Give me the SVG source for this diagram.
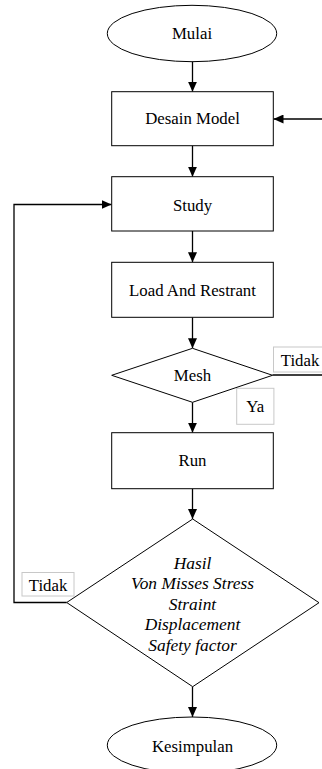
<svg xmlns="http://www.w3.org/2000/svg" width="322" height="769" viewBox="0 0 322 769" font-family="'Liberation Serif', 'DejaVu Serif', serif">
  <defs>
    <marker id="arrow" markerUnits="userSpaceOnUse" markerWidth="10" markerHeight="9" refX="10" refY="4.5" orient="auto">
      <path d="M0,0 L10,4.5 L0,9 z" fill="#000"/>
    </marker>
    <style>
      .shape { fill: #fff; stroke: #000; stroke-width: 1; }
      .lbl { fill: #fff; stroke: #c8c8c8; stroke-width: 1; }
      .edge { fill: none; stroke: #000; stroke-width: 1.3; }
      .arr { marker-end: url(#arrow); }
      .t { font-family: 'Liberation Serif', 'DejaVu Serif', serif; font-size: 16.8px; fill: #000; text-anchor: middle; }
      .it { font-style: italic; font-size: 17.4px; }
    </style>
  </defs>

  <rect width="322" height="769" fill="#fff"/>

  <!-- connectors -->
  <g id="connectors">
    <line class="edge arr" x1="192.5" y1="61.7" x2="192.5" y2="91.7"/>
    <line class="edge arr" x1="322" y1="119" x2="273.5" y2="119"/>
    <line class="edge arr" x1="192.5" y1="145.7" x2="192.5" y2="176.7"/>
    <line class="edge arr" x1="192.5" y1="231" x2="192.5" y2="262.3"/>
    <line class="edge arr" x1="192.5" y1="317.3" x2="192.5" y2="348.3"/>
    <line class="edge" x1="272.5" y1="375" x2="322" y2="375"/>
    <line class="edge arr" x1="192.5" y1="402.3" x2="192.5" y2="432.7"/>
    <line class="edge arr" x1="192.5" y1="488.7" x2="192.5" y2="519"/>
    <polyline class="edge arr" points="66.7,602.5 14,602.5 14,204.5 111.5,204.5"/>
    <line class="edge arr" x1="192.5" y1="686.7" x2="192.5" y2="717"/>
  </g>

  <!-- edge labels -->
  <g id="label-tidak-mesh">
    <rect class="lbl" x="273.5" y="347" width="50" height="25"/>
    <text x="300" y="365.5" class="t">Tidak</text>
  </g>
  <g id="label-ya">
    <rect class="lbl" x="236.7" y="388.3" width="37.2" height="36"/>
    <text x="255.3" y="412" class="t">Ya</text>
  </g>
  <g id="label-tidak-hasil">
    <rect class="lbl" x="22" y="572.5" width="52" height="23.5"/>
    <text x="48" y="590.5" class="t">Tidak</text>
  </g>

  <!-- nodes -->
  <g id="mulai">
    <ellipse class="shape" cx="192" cy="33.5" rx="84.7" ry="28.2"/>
    <text x="192" y="39" class="t">Mulai</text>
  </g>
  <g id="desain-model">
    <rect class="shape" x="111.7" y="91.7" width="161.6" height="54"/>
    <text x="192.5" y="124" class="t">Desain Model</text>
  </g>
  <g id="study">
    <rect class="shape" x="111.7" y="176.7" width="161.6" height="54.3"/>
    <text x="192.5" y="210.5" class="t">Study</text>
  </g>
  <g id="load-and-restrant">
    <rect class="shape" x="111.7" y="262.3" width="161.6" height="55"/>
    <text x="192.5" y="295.5" class="t">Load And Restrant</text>
  </g>
  <g id="mesh">
    <polygon class="shape" points="192.5,348.3 272.5,375.3 192.5,402.3 111.7,375.3"/>
    <text x="192.5" y="380.5" class="t">Mesh</text>
  </g>
  <g id="run">
    <rect class="shape" x="111.7" y="432.7" width="161.6" height="56"/>
    <text x="192.5" y="466" class="t">Run</text>
  </g>
  <g id="hasil">
    <polygon class="shape" points="192.7,519 319,602.7 192.7,686.7 66.7,602.5"/>
    <text class="t it" x="192.5" y="568.8">Hasil</text>
    <text class="t it" x="192.5" y="589.3">Von Misses Stress</text>
    <text class="t it" x="192.5" y="609.8">Straint</text>
    <text class="t it" x="192.5" y="630.3">Displacement</text>
    <text class="t it" x="192.5" y="650.8">Safety factor</text>
  </g>
  <g id="kesimpulan">
    <ellipse class="shape" cx="192" cy="745.2" rx="84.7" ry="28.2"/>
    <text x="192.5" y="752" class="t">Kesimpulan</text>
  </g>
</svg>
